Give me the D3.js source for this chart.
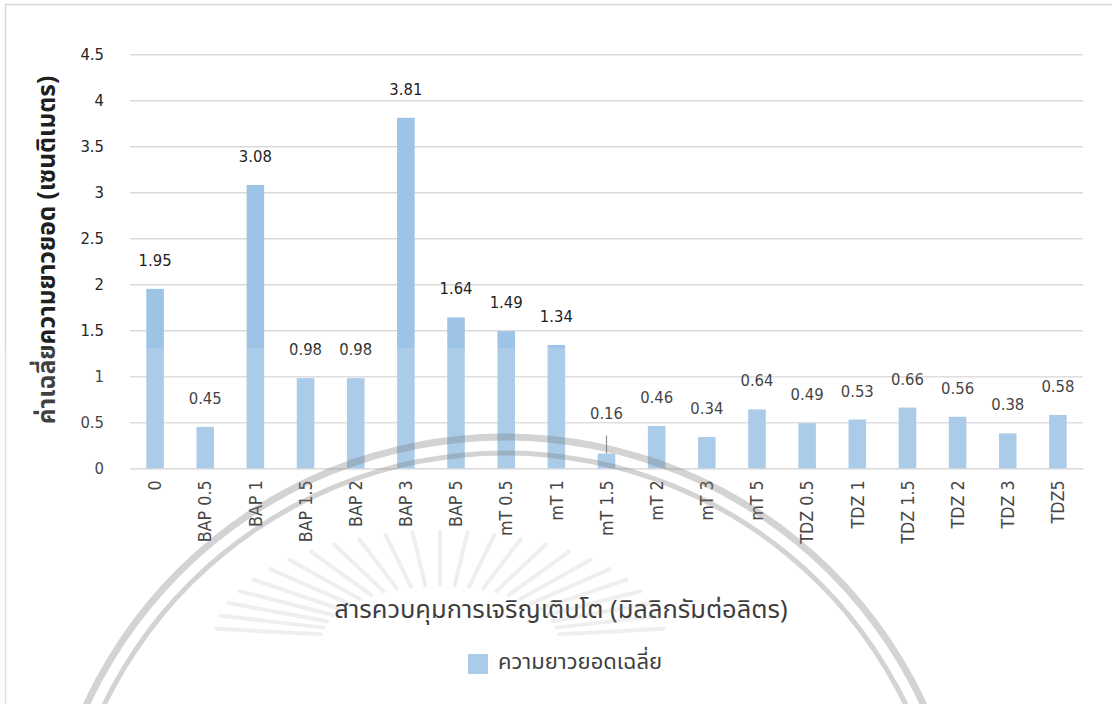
<!DOCTYPE html>
<html>
<head>
<meta charset="utf-8">
<script src="https://cdn.jsdelivr.net/npm/d3@7"></script>
<style>
  html, body { margin: 0; padding: 0; background: #fff; }
  svg { display: block; }
  text { font-family: "DejaVu Sans Condensed", "DejaVu Sans", "Noto Sans Thai", sans-serif; }
  .thai { font-family: "Noto Sans Thai", "DejaVu Sans", sans-serif; }
</style>
</head>
<body>
<svg id="chart" width="1112" height="704"></svg>
<script>
// Treatments (plant growth regulators, mg/L)
const categories = ["0", "BAP 0.5", "BAP 1", "BAP 1.5", "BAP 2", "BAP 3", "BAP 5",
  "mT 0.5", "mT 1", "mT 1.5", "mT 2", "mT 3", "mT 5",
  "TDZ  0.5", "TDZ 1", "TDZ 1.5", "TDZ 2", "TDZ 3", "TDZ5"];
// Mean shoot length (cm)
const shootLength = [1.95, 0.45, 3.08, 0.98, 0.98, 3.81, 1.64, 1.49, 1.34, 0.16,
  0.46, 0.34, 0.64, 0.49, 0.53, 0.66, 0.56, 0.38, 0.58];
const yTicks = [0, 0.5, 1, 1.5, 2, 2.5, 3, 3.5, 4, 4.5];
const yTitle = "ค่าเฉลี่ยความยาวยอด (เซนติเมตร)";
const xTitle = "สารควบคุมการเจริญเติบโต (มิลลิกรัมต่อลิตร)";
const seriesName = "ความยาวยอดเฉลี่ย";

const W = 1112, H = 704;
const plot = { left: 130, right: 1083, top: 54.3, bottom: 468.3 };
const barColor = "#9DC3E6";

const svg = d3.select("#chart");

// chart frame
svg.append("rect")
  .attr("x", 5.5).attr("y", 4.5)
  .attr("width", W + 10).attr("height", H + 10)
  .attr("fill", "#fff").attr("stroke", "#D9D9D9").attr("stroke-width", 1.5);

const x = d3.scaleBand().domain(categories)
  .range([plot.left, plot.right]).paddingInner(0.65).paddingOuter(0.325);
const y = d3.scaleLinear().domain([0, 4.5]).range([plot.bottom, plot.top]);

// gridlines + value labels on the left
const yAxis = d3.axisLeft(y).tickValues(yTicks)
  .tickSize(-(plot.right - plot.left)).tickPadding(26)
  .tickFormat(d => d3.format("")(d));
const gy = svg.append("g").attr("transform", `translate(${plot.left},0)`).call(yAxis);
gy.attr("font-family", null);
gy.select(".domain").remove();
gy.selectAll(".tick line").attr("stroke", "#D9D9D9").attr("stroke-width", 1.5);
gy.selectAll(".tick text").attr("fill", "#262626").attr("font-size", 16.5);

// category axis
const xAxis = d3.axisBottom(x).tickSize(0).tickPadding(0);
const gx = svg.append("g").attr("transform", `translate(0,${plot.bottom})`).call(xAxis);
gx.attr("font-family", null);
gx.select(".domain").attr("stroke", "#D9D9D9").attr("stroke-width", 1.5);
gx.selectAll(".tick text")
  .attr("fill", "#262626").attr("font-size", 17.75)
  .attr("text-anchor", "end")
  .attr("transform", "rotate(-90)")
  .attr("x", -12).attr("y", 0).attr("dy", "0.35em")
  .text(d => d.replace("  ", " "));

// bars
svg.append("g").selectAll("rect")
  .data(categories)
  .join("rect")
  .attr("x", d => x(d))
  .attr("width", x.bandwidth())
  .attr("y", (d, i) => y(shootLength[i]))
  .attr("height", (d, i) => y(0) - y(shootLength[i]))
  .attr("fill", barColor);

// value labels
const labelGap = d => (d < 0.3 ? 35 : 23);
svg.append("g").selectAll("text")
  .data(categories)
  .join("text")
  .attr("x", d => x(d) + x.bandwidth() / 2)
  .attr("y", (d, i) => y(shootLength[i]) - labelGap(shootLength[i]))
  .attr("text-anchor", "middle")
  .attr("font-size", 16.5)
  .attr("fill", "#1f1f1f")
  .text((d, i) => shootLength[i].toFixed(2));

// leader line for the short bar whose label sits higher
categories.forEach((c, i) => {
  if (shootLength[i] < 0.3) {
    svg.append("line")
      .attr("x1", x(c) + x.bandwidth() / 2).attr("x2", x(c) + x.bandwidth() / 2)
      .attr("y1", y(shootLength[i]) - 18).attr("y2", y(shootLength[i]))
      .attr("stroke", "#7F7F7F").attr("stroke-width", 1.2);
  }
});

// axis titles
svg.append("text").attr("class", "thai")
  .attr("transform", `translate(55,250) rotate(-90)`)
  .attr("text-anchor", "middle")
  .attr("font-size", 24.5).attr("font-weight", "bold")
  .attr("fill", "#1f1f1f")
  .text(yTitle);

svg.append("text").attr("class", "thai")
  .attr("x", 561).attr("y", 618)
  .attr("text-anchor", "middle")
  .attr("font-size", 25.5)
  .attr("fill", "#1a1a1a")
  .text(xTitle);

// legend
const lg = svg.append("g").attr("transform", "translate(468,654)");
lg.append("rect").attr("width", 20).attr("height", 20).attr("fill", barColor);
lg.append("text").attr("class", "thai").attr("x", 30).attr("y", 15)
  .attr("font-size", 22).attr("fill", "#1a1a1a").text(seriesName);

// faint emblem watermark across the lower half
const wm = svg.append("g").attr("pointer-events", "none");
wm.append("rect").attr("x", 0).attr("y", 348).attr("width", W).attr("height", H - 348)
  .attr("fill", "#fff").attr("opacity", 0.15);
const arc = d3.arc();
[[461, 7], [445, 5]].forEach(([r, w]) => {
  wm.append("path")
    .attr("transform", "translate(505,898)")
    .attr("d", arc({ innerRadius: r - w / 2, outerRadius: r + w / 2,
      startAngle: -Math.PI / 2, endAngle: Math.PI / 2 }))
    .attr("fill", "#7a7a7a").attr("opacity", 0.33);
});
const rays = d3.range(-84, 85, 7);
const rad = a => a * Math.PI / 180;
wm.append("g").attr("transform", "translate(440,640)")
  .selectAll("line").data(rays).join("line")
  .attr("x1", a => 120 * Math.sin(rad(a)))
  .attr("y1", a => -55 * Math.cos(rad(a)))
  .attr("x2", a => 225 * Math.sin(rad(a)))
  .attr("y2", a => -108 * Math.cos(rad(a)))
  .attr("stroke", "#8a8a8a").attr("stroke-width", 4)
  .attr("stroke-linecap", "round").attr("opacity", 0.13);
</script>
</body>
</html>
